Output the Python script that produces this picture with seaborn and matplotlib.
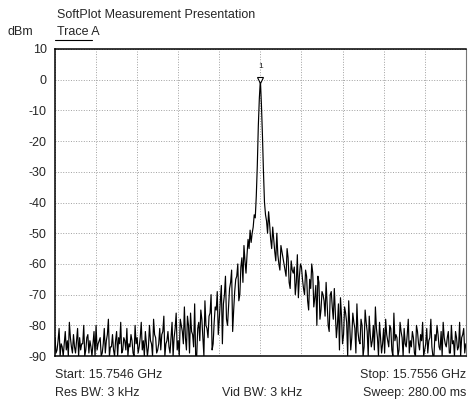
import numpy as np
import pandas as pd
import seaborn as sns
import matplotlib.pyplot as plt

# Trace A readings (dBm): samples on the bin points, 201 across the span
level_dbm = [
    -84, -88, -81, -86, -90, -82, -85, -79, -87, -83, -89, -81, -84, -86, -80, -88, -83, -85, -90, -82,
    -80, -86, -84, -89, -81, -85, -78, -87, -83, -90, -82, -84, -79, -88, -85, -81, -86, -83, -89, -80,
    -84, -87, -79, -85, -82, -90, -80, -86, -78, -84, -88, -81, -83, -77, -86, -82, -89, -79, -84, -76,
    -85, -78, -82, -74, -88, -80, -76, -83, -73, -90, -79, -75, -84, -72, -81, -77, -70, -86, -74, -69,
    -78, -67, -73, -64, -80, -68, -62, -75, -65, -60,
    -70, -58, -54, -63, -52, -49, -50, -44, -38, -15,
    0,
    -18, -40, -46, -43, -52, -48, -56, -50, -60, -54,
    -58, -62, -55, -66, -59, -63, -70, -57, -64, -61,
    -68, -62, -72, -65, -60, -74, -67, -64, -78, -69,
    -72, -66, -80, -70, -74, -68, -84, -73, -71, -86,
    -74, -79, -72, -88, -76, -81, -73, -85, -78, -90, -75, -82, -77, -87, -80, -74, -84, -79, -89, -81,
    -78, -85, -80, -88, -76, -83, -90, -79, -84, -81, -87, -78, -85, -82, -89, -80, -86, -83, -79, -88,
    -81, -85, -78, -90, -83, -80, -87, -82, -79, -86, -84, -89, -80, -85, -82, -88, -79, -84, -81, -86,
]
# samples between the bin points (200)
level_mid_dbm = [
    -89, -85, -90, -87, -86, -88, -90, -84, -89, -87, -85, -90, -88, -86, -90, -84, -89, -87, -86, -90,
    -88, -85, -90, -86, -89, -83, -90, -87, -88, -85, -90, -86, -89, -84, -88, -90, -87, -85, -90, -86,
    -89, -84, -88, -90, -86, -87, -85, -90, -83, -89, -86, -88, -82, -90, -85, -87, -84, -90, -81, -88,
    -90, -80, -86, -84, -77, -89, -82, -87, -90, -81, -85, -78, -90, -80, -84, -76, -88, -79, -75, -83,
    -72, -86, -70, -78, -74, -66, -82, -69, -64, -72,
    -61, -66, -59, -57, -55, -53, -48, -45, -28, -6,
    -8, -30, -44, -50, -47, -55, -52, -59, -57, -62,
    -56, -60, -64, -58, -68, -62, -61, -66, -71, -60,
    -65, -70, -64, -75, -68, -63, -71, -80, -66, -75,
    -70, -77, -73, -82, -69, -78, -76, -80, -88, -77,
    -83, -76, -90, -80, -84, -79, -89, -82, -86, -80, -87, -79, -90, -83, -85, -88, -81, -90, -84, -86,
    -89, -83, -87, -81, -90, -85, -84, -88, -82, -90, -86, -83, -89, -87, -84, -90, -82, -88, -85, -90,
    -86, -89, -84, -87, -90, -85, -83, -88, -90, -84, -87, -82, -89, -86, -90, -84, -87, -90, -83, -89,
]
start_ghz = 15.7546
stop_ghz = 15.7556
y_ticks = [10, 0, -10, -20, -30, -40, -50, -60, -70, -80, -90]
marker_level = 0

# interleave the two sample sets into one sweep
n = len(level_dbm) + len(level_mid_dbm)
levels = np.empty(n)
levels[0::2] = level_dbm
levels[1::2] = level_mid_dbm
freq = np.linspace(start_ghz, stop_ghz, n)
df = pd.DataFrame({"freq": freq, "level": levels})

sns.set_style("white")
plt.rcParams["font.family"] = ["Liberation Sans", "DejaVu Sans"]
plt.rcParams["font.size"] = 9

fig = plt.figure(figsize=(4.70, 4.01), dpi=100)
ax = fig.add_axes([0.117, 0.112, 0.874, 0.766])

sns.lineplot(data=df, x="freq", y="level", color="black", linewidth=0.85, ax=ax)

ax.set_xlim(start_ghz, stop_ghz)
ax.set_ylim(-90, 10)
ax.set_yticks(y_ticks)
ax.set_yticklabels([str(t) for t in y_ticks])
ax.set_xticks(np.linspace(start_ghz, stop_ghz, 11))
ax.set_xticklabels([])
ax.tick_params(axis="both", length=0, pad=6, labelsize=9)
ax.grid(True, color="#a0a0a0", linestyle=":", linewidth=0.7)
ax.set_xlabel("")
ax.set_ylabel("")
for side in ax.spines:
    ax.spines[side].set_color("black")
    ax.spines[side].set_linewidth(1.1)
ax.spines["right"].set_color("#777777")
ax.spines["right"].set_linewidth(0.8)

# peak marker
centre = (start_ghz + stop_ghz) / 2
ax.plot([centre], [marker_level], marker="v", markersize=5, markerfacecolor="white",
        markeredgecolor="black", markeredgewidth=0.8)
ax.text(centre, marker_level + 3, "1", ha="center", va="bottom", fontsize=6)

# header and footer text
fig.text(57 / 470, 1 - 15 / 401, "SoftPlot Measurement Presentation", ha="left", va="center", fontsize=9)
fig.text(8 / 470, 1 - 32 / 401, "dBm", ha="left", va="center", fontsize=9)
fig.text(57 / 470, 1 - 32 / 401, "Trace A", ha="left", va="center", fontsize=9)
fig.add_artist(plt.Line2D([55 / 470, 92 / 470], [1 - 40 / 401, 1 - 40 / 401], color="black", linewidth=0.8))

fig.text(55 / 470, 1 - 375 / 401, "Start: 15.7546 GHz", ha="left", va="center", fontsize=9)
fig.text(466 / 470, 1 - 375 / 401, "Stop: 15.7556 GHz", ha="right", va="center", fontsize=9)
fig.text(55 / 470, 1 - 393 / 401, "Res BW: 3 kHz", ha="left", va="center", fontsize=9)
fig.text(262 / 470, 1 - 393 / 401, "Vid BW: 3 kHz", ha="center", va="center", fontsize=9)
fig.text(466 / 470, 1 - 393 / 401, "Sweep: 280.00 ms", ha="right", va="center", fontsize=9)

fig.savefig("out.png", dpi=100)
